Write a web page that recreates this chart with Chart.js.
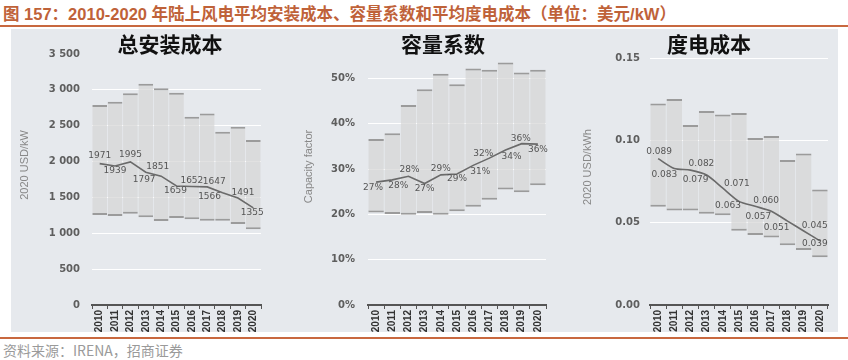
<!DOCTYPE html>
<html><head><meta charset="utf-8">
<script src="https://cdn.jsdelivr.net/npm/chart.js@4.4.0/dist/chart.umd.min.js"></script>
<style>
html,body{margin:0;padding:0;background:#fff;width:848px;height:360px;overflow:hidden;}
#title{position:absolute;left:3px;top:1px;font:bold 16.5px "Liberation Sans","Noto Sans CJK SC",sans-serif;color:#bf6239;white-space:nowrap;}
.rule{position:absolute;left:0;width:848px;height:2px;background:#c8683f;}
#panel{position:absolute;left:11px;top:29px;width:827px;height:303px;background:#e6e9ed;}
canvas{position:absolute;top:29px;}
#src{position:absolute;left:3px;top:340px;font:14px "Noto Sans CJK SC",sans-serif;color:#9a9a9a;white-space:nowrap;}
</style></head>
<body>
<div id="title">图 157：2010-2020 年陆上风电平均安装成本、容量系数和平均度电成本（单位：美元/kW）</div>
<div class="rule" style="top:25px"></div>
<div id="panel"></div>
<canvas id="c1" width="265" height="304" style="left:10px;width:265px;height:304px"></canvas>
<canvas id="c2" width="270" height="304" style="left:290px;width:270px;height:304px"></canvas>
<canvas id="c3" width="278" height="304" style="left:560px;width:278px;height:304px"></canvas>
<div class="rule" style="top:337px"></div>
<div id="src">资料来源：IRENA，招商证券</div>
<script>
// ---- data ----
const years = ['2010','2011','2012','2013','2014','2015','2016','2017','2018','2019','2020'];

const costLow  = [1255, 1241, 1273, 1222, 1171, 1213, 1194, 1175, 1175, 1129, 1055];
const costHigh = [2789, 2835, 2951, 3085, 3021, 2960, 2625, 2672, 2416, 2486, 2300];
const costAvg  = [1971, 1939, 1995, 1851, 1797, 1659, 1652, 1647, 1566, 1491, 1355];
const costTicks = [0, 500, 1000, 1500, 2000, 2500, 3000, 3500];

const cfLow  = [20.4, 20.1, 19.9, 20.3, 19.9, 20.7, 21.7, 23.2, 25.5, 24.9, 26.4];
const cfHigh = [36.6, 37.9, 44.1, 47.6, 51.0, 48.7, 52.2, 51.9, 53.5, 51.3, 51.9];
const cfAvg  = [27.1, 27.6, 28.4, 26.8, 28.7, 28.9, 30.8, 32.4, 34.2, 35.6, 35.5];
const cfTicks = [0, 10, 20, 30, 40, 50];

const lcoeLow  = [0.0597, 0.0575, 0.0575, 0.0555, 0.0545, 0.0452, 0.0425, 0.0411, 0.0363, 0.0334, 0.0290];
const lcoeHigh = [0.1225, 0.1252, 0.1094, 0.1179, 0.1159, 0.1168, 0.1016, 0.1027, 0.0881, 0.0921, 0.0703];
const lcoeAvg  = [0.089, 0.083, 0.082, 0.079, 0.071, 0.063, 0.060, 0.057, 0.051, 0.045, 0.039];
const lcoeTicks = [0, 0.05, 0.10, 0.15];

// ---- styling (label offsets relative to line points) ----
const costLabelOffsets = [[0,-8],[0,5],[0,-7],[12,-6],[-17,4],[-1,5],[0,-6],[7,-5],[-13,4],[5,-5],[-1,5]];
const cfLabelOffsets   = [[-3,5],[6,6],[1,-7],[0,5],[0,-6],[0,5],[7,6],[-6,-4],[6,7],[-1,-5],[0,6]];
const lcoeLabelOffsets = [[1,-7],[-10,6],[11,-6],[-11,5],[14,-5],[-11,4],[11,-6],[-13,5],[-11,7],[11,-5],[-5,3]];

function extras(p){
  return {
    id:'extras',
    afterDatasetsDraw(chart){
      const ctx = chart.ctx;
      const meta = chart.getDatasetMeta(1);
      ctx.save();
      ctx.font = '9px "DejaVu Sans", sans-serif';
      ctx.fillStyle = '#555';
      ctx.textAlign = 'center';
      ctx.textBaseline = 'middle';
      meta.data.forEach((pt,i)=>{
        const o = p.offsets[i];
        ctx.fillText(p.fmtLabel(p.avg[i]), pt.x + o[0], pt.y + o[1]);
      });
      ctx.font = 'bold 21px "Noto Sans CJK SC", sans-serif';
      ctx.fillStyle = '#111';
      ctx.fillText(p.title, p.titleX, p.titleY);
      ctx.translate(p.yTitleX, p.yTitleY);
      ctx.rotate(-Math.PI/2);
      ctx.font = '11px "Liberation Sans", sans-serif';
      ctx.fillStyle = '#888';
      ctx.fillText(p.yTitle, 0, 0);
      ctx.restore();
    }
  };
}

function makeChart(id, p){
  new Chart(document.getElementById(id), {
    data:{
      labels: years,
      datasets:[
        {
          type:'bar',
          data: p.low.map((v,i)=>[v, p.high[i]]),
          backgroundColor:'rgba(214,214,214,0.72)',
          borderColor:'#9b9b9b',
          borderWidth:{top:2,bottom:2,left:0,right:0},
          borderSkipped:false,
          barPercentage:0.96,
          categoryPercentage:1,
          order:2
        },
        {
          type:'line',
          data: p.avg,
          borderColor:'#6a6a6a',
          borderWidth:1.6,
          pointRadius:0,
          tension:p.tension,
          fill:false,
          order:1
        }
      ]
    },
    options:{
      responsive:false,
      animation:false,
      events:[],
      layout:{padding:{left:0,right:p.padRight,top:p.padTop,bottom:0}},
      plugins:{legend:{display:false},tooltip:{enabled:false},title:{display:false}},
      scales:{
        x:{
          offset:true,
          grid:{display:true,drawOnChartArea:false,drawTicks:true,tickLength:4,color:'#555',offset:true},
          border:{display:true,color:'#555',width:2},
          ticks:{minRotation:90,maxRotation:90,padding:1,color:'#333',font:{family:'"Liberation Sans", sans-serif',size:10,weight:'bold'}},
          afterFit(s){ s.height = 28; }
        },
        y:{
          min:0, max:p.max,
          afterBuildTicks(s){ s.ticks = p.ticks.map(v=>({value:v})); },
          grid:{color:(c)=> (c.tick && p.hideTop && c.tick.value===p.max) ? 'rgba(0,0,0,0)' : '#ffffff', lineWidth:1, drawTicks:false},
          border:{display:false},
          ticks:{padding:p.tickPad,color:'#5e5e5e',font:{family:'"DejaVu Sans", sans-serif',size:10,weight:'bold'},callback:(v)=>p.fmtTick(v)},
          afterFit(s){ s.width = p.plotLeft; }
        }
      }
    },
    plugins:[extras(p)]
  });
}

const thousands = v => v>=1000 ? Math.floor(v/1000)+' '+String(Math.round(v%1000)).padStart(3,'0') : String(v);

makeChart('c1',{
  low:costLow, high:costHigh, avg:costAvg, ticks:costTicks, max:3500,
  plotLeft:82, padRight:14, padTop:25, tickPad:12, tension:0, hideTop:true,
  fmtTick:thousands, fmtLabel:v=>String(v), offsets:costLabelOffsets,
  title:'总安装成本', titleX:160, titleY:15,
  yTitle:'2020 USD/kW', yTitleX:15, yTitleY:136
});
makeChart('c2',{
  low:cfLow, high:cfHigh, avg:cfAvg, ticks:cfTicks, max:55,
  plotLeft:78, padRight:14, padTop:26.7, tickPad:13, tension:0, hideTop:false,
  fmtTick:v=>v+'%', fmtLabel:v=>Math.round(v)+'%', offsets:cfLabelOffsets,
  title:'容量系数', titleX:153, titleY:15,
  yTitle:'Capacity factor', yTitleX:19, yTitleY:137.5
});
makeChart('c3',{
  low:lcoeLow, high:lcoeHigh, avg:lcoeAvg, ticks:lcoeTicks, max:0.15,
  plotLeft:90, padRight:10, padTop:29.3, tickPad:10, tension:0.25, hideTop:false,
  fmtTick:v=>Number(v).toFixed(2), fmtLabel:v=>v.toFixed(3), offsets:lcoeLabelOffsets,
  title:'度电成本', titleX:149, titleY:15,
  yTitle:'2020 USD/kWh', yTitleX:27.5, yTitleY:138
});
</script>
</body></html>
